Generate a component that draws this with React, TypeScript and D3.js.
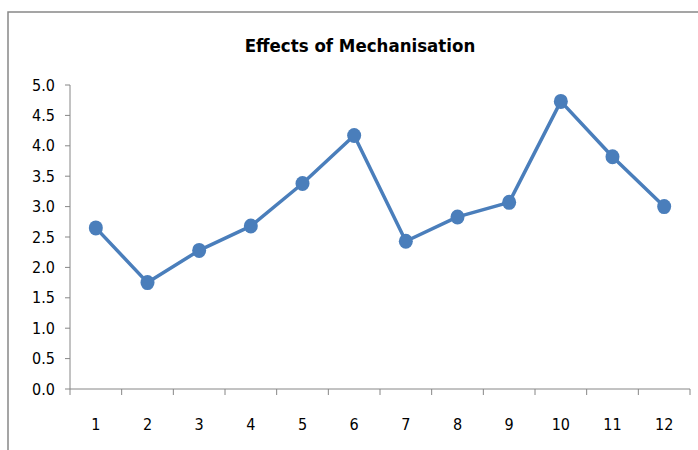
import React from "react";
import * as d3 from "d3";

const categories: string[] = ["1", "2", "3", "4", "5", "6", "7", "8", "9", "10", "11", "12"];
const values: number[] = [2.65, 1.75, 2.28, 2.68, 3.38, 4.17, 2.43, 2.83, 3.07, 4.73, 3.82, 3.0];
const yTicks: number[] = [0, 0.5, 1, 1.5, 2, 2.5, 3, 3.5, 4, 4.5, 5];
const title = "Effects of Mechanisation";

const W = 698;
const H = 450;
const left = 70;
const right = 690;
const top = 85;
const bottom = 389;
const blue = "#4A7EBB";
const axisColor = "#868686";
const font = "'Liberation Sans Narrow', 'DejaVu Sans Condensed', Roboto, sans-serif";

export default function App() {
  const x = d3.scaleBand<string>().domain(categories).range([left, right]).padding(0);
  const y = d3.scaleLinear().domain([0, 5]).range([bottom, top]);
  const cx = (c: string) => (x(c) as number) + x.bandwidth() / 2;
  const line = d3
    .line<number>()
    .x((_, i) => cx(categories[i]))
    .y((d) => y(d));
  const xTickPos = [...categories.map((c) => x(c) as number), right];

  return (
    <svg
      width={W}
      height={H}
      style={{ position: "absolute", left: 0, top: 0, background: "#fff" }}
    >
      <rect x={8} y={12} width={W + 20} height={H + 20} fill="#fff" stroke="#888" strokeWidth={1.5} />
      <text
        x={360}
        y={52}
        textAnchor="middle"
        fontFamily={font}
        fontWeight="bold"
        fontSize={18.5}
        fill="#000"
      >
        {title}
      </text>
      {/* y axis */}
      <line x1={left} x2={left} y1={top} y2={bottom} stroke={axisColor} strokeWidth={1} />
      {yTicks.map((t) => (
        <g key={t}>
          <line x1={left - 5} x2={left} y1={y(t)} y2={y(t)} stroke={axisColor} strokeWidth={1} />
          <text
            x={55}
            y={y(t)}
            dy="0.35em"
            textAnchor="end"
            fontFamily={font}
            fontSize={16}
            fill="#000"
          >
            {t.toFixed(1)}
          </text>
        </g>
      ))}
      {/* x axis */}
      <line x1={left} x2={right} y1={bottom} y2={bottom} stroke={axisColor} strokeWidth={1} />
      {xTickPos.map((p, i) => (
        <line key={i} x1={p} x2={p} y1={bottom} y2={bottom + 6} stroke={axisColor} strokeWidth={1} />
      ))}
      {categories.map((c) => (
        <text
          key={c}
          x={cx(c)}
          y={424}
          dy="0.35em"
          textAnchor="middle"
          fontFamily={font}
          fontSize={16}
          fill="#000"
        >
          {c}
        </text>
      ))}
      <path d={line(values) as string} fill="none" stroke={blue} strokeWidth={3.5} strokeLinejoin="round" />
      {values.map((v, i) => (
        <ellipse key={i} cx={cx(categories[i])} cy={y(v)} rx={7} ry={7.5} fill={blue} />
      ))}
    </svg>
  );
}
